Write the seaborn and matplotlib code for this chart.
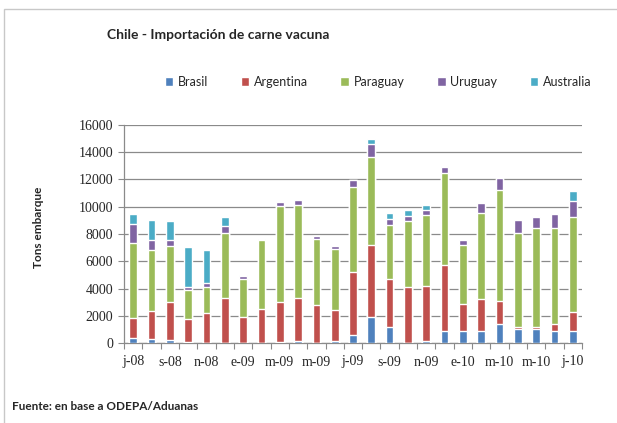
import pandas as pd
import matplotlib.pyplot as plt
import seaborn as sns
from matplotlib.patches import Patch, Rectangle

months = ["2008-07", "2008-08", "2008-09", "2008-10", "2008-11", "2008-12",
          "2009-01", "2009-02", "2009-03", "2009-04", "2009-05", "2009-06",
          "2009-07", "2009-08", "2009-09", "2009-10", "2009-11", "2009-12",
          "2010-01", "2010-02", "2010-03", "2010-04", "2010-05", "2010-06",
          "2010-07"]
tick_labels = ["j-08", "s-08", "n-08", "e-09", "m-09", "m-09", "j-09",
               "s-09", "n-09", "e-10", "m-10", "m-10", "j-10"]

brasil = [350, 320, 200, 70, 0, 0, 0, 0, 80, 120, 0, 120, 560,
          1930, 1200, 0, 120, 880, 860, 900, 1370, 1000, 1000, 900, 860]
argentina = [1510, 2050, 2800, 1720, 2180, 3300, 1930, 2470, 2900, 3160, 2810, 2330, 4670,
             5240, 3470, 4085, 4090, 4840, 1980, 2300, 1690, 200, 200, 510, 1420]
paraguay = [5500, 4480, 4110, 2130, 1950, 4750, 2790, 5060, 7070, 6870, 4790, 4480, 6190,
            6510, 4010, 4890, 5160, 6730, 4330, 6310, 8145, 6850, 7215, 7000, 6950]
uruguay = [1400, 730, 460, 220, 270, 540, 170, 120, 290, 370, 245, 200, 510,
           900, 440, 370, 370, 440, 390, 730, 880, 1000, 810, 1030, 1220]
australia = [700, 1420, 1420, 2930, 2450, 690, 80, 0, 0, 0, 0, 0, 0,
             420, 440, 390, 370, 100, 0, 0, 0, 0, 0, 70, 710]

series = ["Brasil", "Argentina", "Paraguay", "Uruguay", "Australia"]
colors = ["#4F81BD", "#C0504D", "#9BBB59", "#8064A2", "#4BACC6"]

df = pd.DataFrame({"mes": months, "Brasil": brasil, "Argentina": argentina,
                   "Paraguay": paraguay, "Uruguay": uruguay, "Australia": australia})
cum = df[series].cumsum(axis=1)

sns.set_style("white")
plt.rcParams["font.family"] = ["Lato", "DejaVu Sans"]

fig = plt.figure(figsize=(6.17, 4.23), dpi=100)
ax = fig.add_axes([124 / 617, 1 - 343 / 423, (582 - 124) / 617, (343 - 125) / 423])

# stacked bars: draw cumulative totals from the top series down
for name, col in reversed(list(zip(series, colors))):
    sns.barplot(x=df["mes"], y=cum[name], color=col, width=0.42,
                saturation=1, ax=ax, zorder=3)

ax.set_xlim(-0.5, len(months) - 0.5)
ax.set_ylim(0, 16000)
ax.set_yticks(range(0, 16001, 2000))
ax.yaxis.grid(True, color="#8a8a8a", linewidth=0.9)
ax.set_axisbelow(True)
ax.set_xlabel("")
ax.set_ylabel("")

# category boundary ticks, labels every other month
ax.set_xticks([i - 0.5 for i in range(len(months) + 1)])
ax.set_xticklabels([])
ax.set_xticks(list(range(0, len(months), 2)), minor=True)
ax.set_xticklabels(tick_labels, minor=True, family="Liberation Serif", fontsize=10)
ax.tick_params(axis="x", which="major", length=4, color="#8a8a8a", direction="out", bottom=True)
ax.tick_params(axis="x", which="minor", length=0, pad=9)
ax.tick_params(axis="y", length=4, color="#8a8a8a", direction="out", left=True, pad=4)
for lab in ax.get_yticklabels():
    lab.set_family("Liberation Serif")
    lab.set_fontsize(10)

for s in ["top", "right"]:
    ax.spines[s].set_visible(False)
for s in ["left", "bottom"]:
    ax.spines[s].set_color("#8a8a8a")
    ax.spines[s].set_linewidth(0.9)

handles = [Patch(facecolor=c, label=n) for n, c in zip(series, colors)]
fig.legend(handles=handles, loc="center", bbox_to_anchor=(378 / 617, 1 - 82 / 423),
           ncol=5, frameon=False, fontsize=9, handlelength=0.7, handleheight=0.7,
           handletextpad=0.35, columnspacing=2.6)

fig.text(107 / 617, 1 - 35 / 423, "Chile - Importación de carne vacuna",
         fontsize=10, fontweight="bold", va="center", ha="left")
fig.text(38 / 617, 1 - 227 / 423, "Tons embarque", rotation=90,
         fontsize=8.5, fontweight="bold", va="center", ha="center")
fig.text(12 / 617, 1 - 406 / 423, "Fuente: en base a ODEPA/Aduanas",
         fontsize=8.5, fontweight="bold", va="center", ha="left")

fig.patches.append(Rectangle((4 / 617, -0.1), 1.2, 1 - 9 / 423 + 0.1,
                             transform=fig.transFigure, fill=False,
                             edgecolor="#c8c8c8", linewidth=1))

plt.savefig("out.png", dpi=100)
plt.close()
